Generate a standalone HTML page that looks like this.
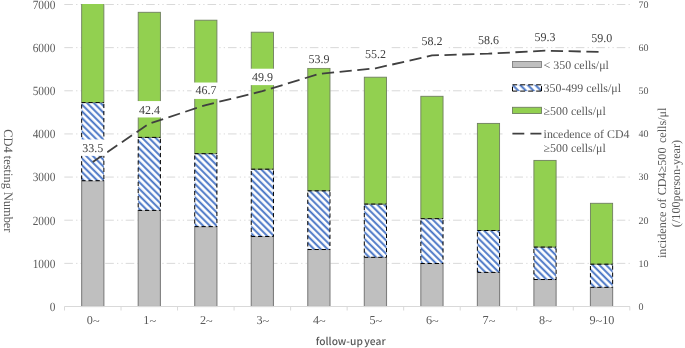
<!DOCTYPE html><html><head><meta charset="utf-8"><style>html,body{margin:0;padding:0;background:#fff;}svg{display:block;text-rendering:geometricPrecision;}</style></head><body>
<svg width="685" height="348" viewBox="0 0 685 348">
<defs><pattern id="h" patternUnits="userSpaceOnUse" width="4.7624" height="4.7624" patternTransform="rotate(45)"><rect width="4.7624" height="4.7624" fill="#fff"/><rect y="0.7223" width="4.7624" height="1.9" fill="#4472c4"/></pattern><pattern id="h2" patternUnits="userSpaceOnUse" width="5.3740" height="5.3740" patternTransform="rotate(45)"><rect width="5.3740" height="5.3740" fill="#fff"/><rect y="3.0098" width="5.3740" height="1.9" fill="#4472c4"/></pattern></defs>
<rect width="685" height="348" fill="#fff"/>
<line x1="64.3" y1="263.36" x2="630.2" y2="263.36" stroke="#d9d9d9" stroke-width="1" stroke-dasharray="8.6 3.2 1.3 3.1 1.3 2.96"/>
<line x1="64.3" y1="220.21" x2="630.2" y2="220.21" stroke="#d9d9d9" stroke-width="1" stroke-dasharray="8.6 3.2 1.3 3.1 1.3 2.96"/>
<line x1="64.3" y1="177.07" x2="630.2" y2="177.07" stroke="#d9d9d9" stroke-width="1" stroke-dasharray="8.6 3.2 1.3 3.1 1.3 2.96"/>
<line x1="64.3" y1="133.93" x2="630.2" y2="133.93" stroke="#d9d9d9" stroke-width="1" stroke-dasharray="8.6 3.2 1.3 3.1 1.3 2.96"/>
<line x1="64.3" y1="90.79" x2="630.2" y2="90.79" stroke="#d9d9d9" stroke-width="1" stroke-dasharray="8.6 3.2 1.3 3.1 1.3 2.96"/>
<line x1="64.3" y1="47.64" x2="630.2" y2="47.64" stroke="#d9d9d9" stroke-width="1" stroke-dasharray="8.6 3.2 1.3 3.1 1.3 2.96"/>
<line x1="64.3" y1="4.50" x2="630.2" y2="4.50" stroke="#d9d9d9" stroke-width="1" stroke-dasharray="8.6 3.2 1.3 3.1 1.3 2.96"/>
<clipPath id="pc"><rect x="0" y="4.0" width="685" height="400"/></clipPath><g clip-path="url(#pc)">
<rect x="81.67" y="180.70" width="22.2" height="125.80" fill="#bfbfbf" stroke="#7f7f7f" stroke-width="1.1"/>
<rect x="81.67" y="102.60" width="22.2" height="78.10" fill="url(#h)"/>
<rect x="81.67" y="1.00" width="22.2" height="101.60" fill="#92d050" stroke="#6f7f5f" stroke-width="0.9"/>
<line x1="81.67" y1="102.60" x2="103.87" y2="102.60" stroke="#000" stroke-width="1.0" stroke-dasharray="4.2 2.900" stroke-dashoffset="0.300"/>
<line x1="81.67" y1="180.70" x2="103.87" y2="180.70" stroke="#000" stroke-width="1.0" stroke-dasharray="4.2 2.900" stroke-dashoffset="0.300"/>
<line x1="81.67" y1="102.60" x2="81.67" y2="180.70" stroke="#000" stroke-width="1.0" stroke-dasharray="4.2 2.900" stroke-dashoffset="5.300"/>
<line x1="103.87" y1="102.60" x2="103.87" y2="180.70" stroke="#000" stroke-width="1.0" stroke-dasharray="4.2 2.900" stroke-dashoffset="5.800"/>
<rect x="138.20" y="210.40" width="22.2" height="96.10" fill="#bfbfbf" stroke="#7f7f7f" stroke-width="1.1"/>
<rect x="138.20" y="137.40" width="22.2" height="73.00" fill="url(#h)"/>
<rect x="138.20" y="12.30" width="22.2" height="125.10" fill="#92d050" stroke="#6f7f5f" stroke-width="0.9"/>
<line x1="138.20" y1="137.40" x2="160.40" y2="137.40" stroke="#000" stroke-width="1.0" stroke-dasharray="4.2 2.900" stroke-dashoffset="0.300"/>
<line x1="138.20" y1="210.40" x2="160.40" y2="210.40" stroke="#000" stroke-width="1.0" stroke-dasharray="4.2 2.900" stroke-dashoffset="0.300"/>
<line x1="138.20" y1="137.40" x2="138.20" y2="210.40" stroke="#000" stroke-width="1.0" stroke-dasharray="4.2 2.900" stroke-dashoffset="5.300"/>
<line x1="160.40" y1="137.40" x2="160.40" y2="210.40" stroke="#000" stroke-width="1.0" stroke-dasharray="4.2 2.900" stroke-dashoffset="5.800"/>
<rect x="194.72" y="226.60" width="22.2" height="79.90" fill="#bfbfbf" stroke="#7f7f7f" stroke-width="1.1"/>
<rect x="194.72" y="153.70" width="22.2" height="72.90" fill="url(#h)"/>
<rect x="194.72" y="20.20" width="22.2" height="133.50" fill="#92d050" stroke="#6f7f5f" stroke-width="0.9"/>
<line x1="194.72" y1="153.70" x2="216.92" y2="153.70" stroke="#000" stroke-width="1.0" stroke-dasharray="4.2 2.900" stroke-dashoffset="0.300"/>
<line x1="194.72" y1="226.60" x2="216.92" y2="226.60" stroke="#000" stroke-width="1.0" stroke-dasharray="4.2 2.900" stroke-dashoffset="0.300"/>
<line x1="194.72" y1="153.70" x2="194.72" y2="226.60" stroke="#000" stroke-width="1.0" stroke-dasharray="4.2 2.900" stroke-dashoffset="5.300"/>
<line x1="216.92" y1="153.70" x2="216.92" y2="226.60" stroke="#000" stroke-width="1.0" stroke-dasharray="4.2 2.900" stroke-dashoffset="5.800"/>
<rect x="251.26" y="236.50" width="22.2" height="70.00" fill="#bfbfbf" stroke="#7f7f7f" stroke-width="1.1"/>
<rect x="251.26" y="169.20" width="22.2" height="67.30" fill="url(#h)"/>
<rect x="251.26" y="32.20" width="22.2" height="137.00" fill="#92d050" stroke="#6f7f5f" stroke-width="0.9"/>
<line x1="251.26" y1="169.20" x2="273.46" y2="169.20" stroke="#000" stroke-width="1.0" stroke-dasharray="4.2 2.900" stroke-dashoffset="0.300"/>
<line x1="251.26" y1="236.50" x2="273.46" y2="236.50" stroke="#000" stroke-width="1.0" stroke-dasharray="4.2 2.900" stroke-dashoffset="0.300"/>
<line x1="251.26" y1="169.20" x2="251.26" y2="236.50" stroke="#000" stroke-width="1.0" stroke-dasharray="4.2 2.900" stroke-dashoffset="5.300"/>
<line x1="273.46" y1="169.20" x2="273.46" y2="236.50" stroke="#000" stroke-width="1.0" stroke-dasharray="4.2 2.900" stroke-dashoffset="5.800"/>
<rect x="307.78" y="249.50" width="22.2" height="57.00" fill="#bfbfbf" stroke="#7f7f7f" stroke-width="1.1"/>
<rect x="307.78" y="190.80" width="22.2" height="58.70" fill="url(#h)"/>
<rect x="307.78" y="68.20" width="22.2" height="122.60" fill="#92d050" stroke="#6f7f5f" stroke-width="0.9"/>
<line x1="307.78" y1="190.80" x2="329.98" y2="190.80" stroke="#000" stroke-width="1.0" stroke-dasharray="4.2 2.900" stroke-dashoffset="0.300"/>
<line x1="307.78" y1="249.50" x2="329.98" y2="249.50" stroke="#000" stroke-width="1.0" stroke-dasharray="4.2 2.900" stroke-dashoffset="0.300"/>
<line x1="307.78" y1="190.80" x2="307.78" y2="249.50" stroke="#000" stroke-width="1.0" stroke-dasharray="4.2 2.900" stroke-dashoffset="5.300"/>
<line x1="329.98" y1="190.80" x2="329.98" y2="249.50" stroke="#000" stroke-width="1.0" stroke-dasharray="4.2 2.900" stroke-dashoffset="5.800"/>
<rect x="364.31" y="257.30" width="22.2" height="49.20" fill="#bfbfbf" stroke="#7f7f7f" stroke-width="1.1"/>
<rect x="364.31" y="204.10" width="22.2" height="53.20" fill="url(#h)"/>
<rect x="364.31" y="77.20" width="22.2" height="126.90" fill="#92d050" stroke="#6f7f5f" stroke-width="0.9"/>
<line x1="364.31" y1="204.10" x2="386.51" y2="204.10" stroke="#000" stroke-width="1.0" stroke-dasharray="4.2 2.900" stroke-dashoffset="0.300"/>
<line x1="364.31" y1="257.30" x2="386.51" y2="257.30" stroke="#000" stroke-width="1.0" stroke-dasharray="4.2 2.900" stroke-dashoffset="0.300"/>
<line x1="364.31" y1="204.10" x2="364.31" y2="257.30" stroke="#000" stroke-width="1.0" stroke-dasharray="4.2 2.900" stroke-dashoffset="5.300"/>
<line x1="386.51" y1="204.10" x2="386.51" y2="257.30" stroke="#000" stroke-width="1.0" stroke-dasharray="4.2 2.900" stroke-dashoffset="5.800"/>
<rect x="420.84" y="263.50" width="22.2" height="43.00" fill="#bfbfbf" stroke="#7f7f7f" stroke-width="1.1"/>
<rect x="420.84" y="218.70" width="22.2" height="44.80" fill="url(#h)"/>
<rect x="420.84" y="96.30" width="22.2" height="122.40" fill="#92d050" stroke="#6f7f5f" stroke-width="0.9"/>
<line x1="420.84" y1="218.70" x2="443.04" y2="218.70" stroke="#000" stroke-width="1.0" stroke-dasharray="4.2 2.900" stroke-dashoffset="0.300"/>
<line x1="420.84" y1="263.50" x2="443.04" y2="263.50" stroke="#000" stroke-width="1.0" stroke-dasharray="4.2 2.900" stroke-dashoffset="0.300"/>
<line x1="420.84" y1="218.70" x2="420.84" y2="263.50" stroke="#000" stroke-width="1.0" stroke-dasharray="4.2 2.900" stroke-dashoffset="5.300"/>
<line x1="443.04" y1="218.70" x2="443.04" y2="263.50" stroke="#000" stroke-width="1.0" stroke-dasharray="4.2 2.900" stroke-dashoffset="5.800"/>
<rect x="477.38" y="272.40" width="22.2" height="34.10" fill="#bfbfbf" stroke="#7f7f7f" stroke-width="1.1"/>
<rect x="477.38" y="230.50" width="22.2" height="41.90" fill="url(#h)"/>
<rect x="477.38" y="123.40" width="22.2" height="107.10" fill="#92d050" stroke="#6f7f5f" stroke-width="0.9"/>
<line x1="477.38" y1="230.50" x2="499.57" y2="230.50" stroke="#000" stroke-width="1.0" stroke-dasharray="4.2 2.900" stroke-dashoffset="0.300"/>
<line x1="477.38" y1="272.40" x2="499.57" y2="272.40" stroke="#000" stroke-width="1.0" stroke-dasharray="4.2 2.900" stroke-dashoffset="0.300"/>
<line x1="477.38" y1="230.50" x2="477.38" y2="272.40" stroke="#000" stroke-width="1.0" stroke-dasharray="4.2 2.900" stroke-dashoffset="5.300"/>
<line x1="499.57" y1="230.50" x2="499.57" y2="272.40" stroke="#000" stroke-width="1.0" stroke-dasharray="4.2 2.900" stroke-dashoffset="5.800"/>
<rect x="533.90" y="279.50" width="22.2" height="27.00" fill="#bfbfbf" stroke="#7f7f7f" stroke-width="1.1"/>
<rect x="533.90" y="247.10" width="22.2" height="32.40" fill="url(#h)"/>
<rect x="533.90" y="160.40" width="22.2" height="86.70" fill="#92d050" stroke="#6f7f5f" stroke-width="0.9"/>
<line x1="533.90" y1="247.10" x2="556.11" y2="247.10" stroke="#000" stroke-width="1.0" stroke-dasharray="4.2 2.900" stroke-dashoffset="0.300"/>
<line x1="533.90" y1="279.50" x2="556.11" y2="279.50" stroke="#000" stroke-width="1.0" stroke-dasharray="4.2 2.900" stroke-dashoffset="0.300"/>
<line x1="533.90" y1="247.10" x2="533.90" y2="279.50" stroke="#000" stroke-width="1.0" stroke-dasharray="4.2 2.900" stroke-dashoffset="5.300"/>
<line x1="556.11" y1="247.10" x2="556.11" y2="279.50" stroke="#000" stroke-width="1.0" stroke-dasharray="4.2 2.900" stroke-dashoffset="5.800"/>
<rect x="590.43" y="287.30" width="22.2" height="19.20" fill="#bfbfbf" stroke="#7f7f7f" stroke-width="1.1"/>
<rect x="590.43" y="264.20" width="22.2" height="23.10" fill="url(#h)"/>
<rect x="590.43" y="203.30" width="22.2" height="60.90" fill="#92d050" stroke="#6f7f5f" stroke-width="0.9"/>
<line x1="590.43" y1="264.20" x2="612.63" y2="264.20" stroke="#000" stroke-width="1.0" stroke-dasharray="4.2 2.900" stroke-dashoffset="0.300"/>
<line x1="590.43" y1="287.30" x2="612.63" y2="287.30" stroke="#000" stroke-width="1.0" stroke-dasharray="4.2 2.900" stroke-dashoffset="0.300"/>
<line x1="590.43" y1="264.20" x2="590.43" y2="287.30" stroke="#000" stroke-width="1.0" stroke-dasharray="4.2 2.900" stroke-dashoffset="5.300"/>
<line x1="612.63" y1="264.20" x2="612.63" y2="287.30" stroke="#000" stroke-width="1.0" stroke-dasharray="4.2 2.900" stroke-dashoffset="5.800"/>
</g>
<line x1="64.5" y1="306.5" x2="630" y2="306.5" stroke="#d9d9d9" stroke-width="1"/>
<line x1="64.50" y1="306.5" x2="64.50" y2="310.5" stroke="#d9d9d9" stroke-width="1"/>
<line x1="121.03" y1="306.5" x2="121.03" y2="310.5" stroke="#d9d9d9" stroke-width="1"/>
<line x1="177.56" y1="306.5" x2="177.56" y2="310.5" stroke="#d9d9d9" stroke-width="1"/>
<line x1="234.09" y1="306.5" x2="234.09" y2="310.5" stroke="#d9d9d9" stroke-width="1"/>
<line x1="290.62" y1="306.5" x2="290.62" y2="310.5" stroke="#d9d9d9" stroke-width="1"/>
<line x1="347.15" y1="306.5" x2="347.15" y2="310.5" stroke="#d9d9d9" stroke-width="1"/>
<line x1="403.68" y1="306.5" x2="403.68" y2="310.5" stroke="#d9d9d9" stroke-width="1"/>
<line x1="460.21" y1="306.5" x2="460.21" y2="310.5" stroke="#d9d9d9" stroke-width="1"/>
<line x1="516.74" y1="306.5" x2="516.74" y2="310.5" stroke="#d9d9d9" stroke-width="1"/>
<line x1="573.27" y1="306.5" x2="573.27" y2="310.5" stroke="#d9d9d9" stroke-width="1"/>
<line x1="629.80" y1="306.5" x2="629.80" y2="310.5" stroke="#d9d9d9" stroke-width="1"/>
<polyline points="92.77,161.97 149.30,123.57 205.82,105.02 262.36,91.22 318.88,73.96 375.42,68.35 431.94,55.41 488.48,53.68 545.00,50.66 601.53,51.96" fill="none" stroke="#404040" stroke-width="1.8" stroke-dasharray="12.2 5.55" stroke-dashoffset="0.3"/>
<rect x="78.47" y="139.47" width="28.6" height="16.4" fill="#fff"/>
<text x="92.86" y="151.77" text-anchor="middle" font-family="Liberation Serif, serif" font-size="12" fill="#404040">33.5</text>
<rect x="135.00" y="101.07" width="28.6" height="16.4" fill="#fff"/>
<text x="149.40" y="113.67" text-anchor="middle" font-family="Liberation Serif, serif" font-size="12" fill="#404040">42.4</text>
<rect x="191.52" y="82.52" width="28.6" height="16.4" fill="#fff"/>
<text x="205.92" y="94.22" text-anchor="middle" font-family="Liberation Serif, serif" font-size="12" fill="#404040">46.7</text>
<rect x="248.06" y="68.72" width="28.6" height="16.4" fill="#fff"/>
<text x="262.46" y="81.02" text-anchor="middle" font-family="Liberation Serif, serif" font-size="12" fill="#404040">49.9</text>
<rect x="304.58" y="51.46" width="28.6" height="16.4" fill="#fff"/>
<text x="318.99" y="63.36" text-anchor="middle" font-family="Liberation Serif, serif" font-size="12" fill="#404040">53.9</text>
<rect x="361.12" y="45.85" width="28.6" height="16.4" fill="#fff"/>
<text x="375.52" y="58.15" text-anchor="middle" font-family="Liberation Serif, serif" font-size="12" fill="#404040">55.2</text>
<rect x="417.64" y="32.91" width="28.6" height="16.4" fill="#fff"/>
<text x="432.05" y="45.21" text-anchor="middle" font-family="Liberation Serif, serif" font-size="12" fill="#404040">58.2</text>
<rect x="474.18" y="31.18" width="28.6" height="16.4" fill="#fff"/>
<text x="488.58" y="44.38" text-anchor="middle" font-family="Liberation Serif, serif" font-size="12" fill="#404040">58.6</text>
<rect x="530.71" y="28.16" width="28.6" height="16.4" fill="#fff"/>
<text x="545.11" y="40.86" text-anchor="middle" font-family="Liberation Serif, serif" font-size="12" fill="#404040">59.3</text>
<rect x="587.24" y="29.46" width="28.6" height="16.4" fill="#fff"/>
<text x="601.63" y="41.76" text-anchor="middle" font-family="Liberation Serif, serif" font-size="12" fill="#404040">59.0</text>
<text transform="translate(55.3,310.80) scale(0.9,1)" text-anchor="end" font-family="Liberation Serif, serif" font-size="12.6" fill="#595959">0</text>
<text transform="translate(55.3,267.66) scale(0.9,1)" text-anchor="end" font-family="Liberation Serif, serif" font-size="12.6" fill="#595959">1000</text>
<text transform="translate(55.3,224.51) scale(0.9,1)" text-anchor="end" font-family="Liberation Serif, serif" font-size="12.6" fill="#595959">2000</text>
<text transform="translate(55.3,181.37) scale(0.9,1)" text-anchor="end" font-family="Liberation Serif, serif" font-size="12.6" fill="#595959">3000</text>
<text transform="translate(55.3,138.23) scale(0.9,1)" text-anchor="end" font-family="Liberation Serif, serif" font-size="12.6" fill="#595959">4000</text>
<text transform="translate(55.3,95.09) scale(0.9,1)" text-anchor="end" font-family="Liberation Serif, serif" font-size="12.6" fill="#595959">5000</text>
<text transform="translate(55.3,51.94) scale(0.9,1)" text-anchor="end" font-family="Liberation Serif, serif" font-size="12.6" fill="#595959">6000</text>
<text transform="translate(55.3,8.80) scale(0.9,1)" text-anchor="end" font-family="Liberation Serif, serif" font-size="12.6" fill="#595959">7000</text>
<text x="638.5" y="309.80" font-family="Liberation Serif, serif" font-size="10" fill="#595959">0</text>
<text x="638.5" y="266.66" font-family="Liberation Serif, serif" font-size="10" fill="#595959">10</text>
<text x="638.5" y="223.51" font-family="Liberation Serif, serif" font-size="10" fill="#595959">20</text>
<text x="638.5" y="180.37" font-family="Liberation Serif, serif" font-size="10" fill="#595959">30</text>
<text x="638.5" y="137.23" font-family="Liberation Serif, serif" font-size="10" fill="#595959">40</text>
<text x="638.5" y="94.09" font-family="Liberation Serif, serif" font-size="10" fill="#595959">50</text>
<text x="638.5" y="50.94" font-family="Liberation Serif, serif" font-size="10" fill="#595959">60</text>
<text x="638.5" y="7.80" font-family="Liberation Serif, serif" font-size="10" fill="#595959">70</text>
<text x="93.17" y="324" text-anchor="middle" font-family="Liberation Serif, serif" font-size="12.2" fill="#595959">0<tspan dy="0.8">~</tspan></text>
<text x="149.70" y="324" text-anchor="middle" font-family="Liberation Serif, serif" font-size="12.2" fill="#595959">1<tspan dy="0.8">~</tspan></text>
<text x="206.22" y="324" text-anchor="middle" font-family="Liberation Serif, serif" font-size="12.2" fill="#595959">2<tspan dy="0.8">~</tspan></text>
<text x="262.75" y="324" text-anchor="middle" font-family="Liberation Serif, serif" font-size="12.2" fill="#595959">3<tspan dy="0.8">~</tspan></text>
<text x="319.28" y="324" text-anchor="middle" font-family="Liberation Serif, serif" font-size="12.2" fill="#595959">4<tspan dy="0.8">~</tspan></text>
<text x="375.81" y="324" text-anchor="middle" font-family="Liberation Serif, serif" font-size="12.2" fill="#595959">5<tspan dy="0.8">~</tspan></text>
<text x="432.34" y="324" text-anchor="middle" font-family="Liberation Serif, serif" font-size="12.2" fill="#595959">6<tspan dy="0.8">~</tspan></text>
<text x="488.88" y="324" text-anchor="middle" font-family="Liberation Serif, serif" font-size="12.2" fill="#595959">7<tspan dy="0.8">~</tspan></text>
<text x="545.40" y="324" text-anchor="middle" font-family="Liberation Serif, serif" font-size="12.2" fill="#595959">8<tspan dy="0.8">~</tspan></text>
<text x="601.93" y="324" text-anchor="middle" font-family="Liberation Serif, serif" font-size="12.2" fill="#595959">9<tspan dy="0.8">~</tspan><tspan dy="-0.8">10</tspan></text>
<text x="350.7" y="344.6" text-anchor="middle" font-family="Noto Sans CJK SC, sans-serif" font-size="10.25" font-weight="500" word-spacing="-0.8" fill="#595959">follow-up year</text>
<text transform="translate(4.1,180.9) rotate(90) scale(0.96,1)" text-anchor="middle" font-family="Liberation Serif, serif" font-size="12.9" fill="#595959">CD4 testing Number</text>
<text transform="translate(666.2,182.8) rotate(-90)" text-anchor="middle" font-family="Liberation Serif, serif" font-size="12.15" fill="#595959">incidence of CD4≥500<tspan dx="1.4"> cells/μl</tspan></text>
<text transform="translate(680.2,183.5) rotate(-90)" text-anchor="middle" font-family="Liberation Serif, serif" font-size="12.2" fill="#595959">(/100person-year)</text>
<rect x="505" y="55" width="125" height="103" fill="#fff"/>
<rect x="512.5" y="61.5" width="29" height="6" fill="#bfbfbf" stroke="#7f7f7f" stroke-width="0.9"/>
<rect x="512.5" y="84.8" width="29" height="6.3" fill="url(#h2)"/>
<line x1="512.50" y1="84.80" x2="541.50" y2="84.80" stroke="#000" stroke-width="1.0" stroke-dasharray="5.0 3.000" stroke-dashoffset="0.300"/>
<line x1="512.50" y1="91.10" x2="541.50" y2="91.10" stroke="#000" stroke-width="1.0" stroke-dasharray="5.0 3.000" stroke-dashoffset="0.300"/>
<line x1="512.50" y1="84.80" x2="512.50" y2="91.10" stroke="#000" stroke-width="1.0" stroke-dasharray="5.0 3.000" stroke-dashoffset="6.200"/>
<line x1="541.50" y1="84.80" x2="541.50" y2="91.10" stroke="#000" stroke-width="1.0" stroke-dasharray="5.0 3.000" stroke-dashoffset="6.700"/>
<rect x="512.5" y="107.3" width="29" height="6.2" fill="#92d050" stroke="#6f7f5f" stroke-width="0.9"/>
<line x1="512.4" y1="133.6" x2="541.4" y2="133.6" stroke="#404040" stroke-width="1.8" stroke-dasharray="11.9 6.1"/>
<text x="543.6" y="68.8" font-family="Liberation Serif, serif" font-size="11.9" fill="#595959">&lt; 350 cells/μl</text>
<text x="543.6" y="91.8" font-family="Liberation Serif, serif" font-size="11.9" fill="#595959">350-499 cells/μl</text>
<text x="543.6" y="114.6" font-family="Liberation Serif, serif" font-size="11.9" fill="#595959">≥500 cells/μl</text>
<text x="543.6" y="137.7" font-family="Liberation Serif, serif" font-size="11.9" fill="#595959">incedence of CD4</text>
<text x="543.6" y="151.7" font-family="Liberation Serif, serif" font-size="11.9" fill="#595959">≥500 cells/μl</text>
</svg></body></html>
